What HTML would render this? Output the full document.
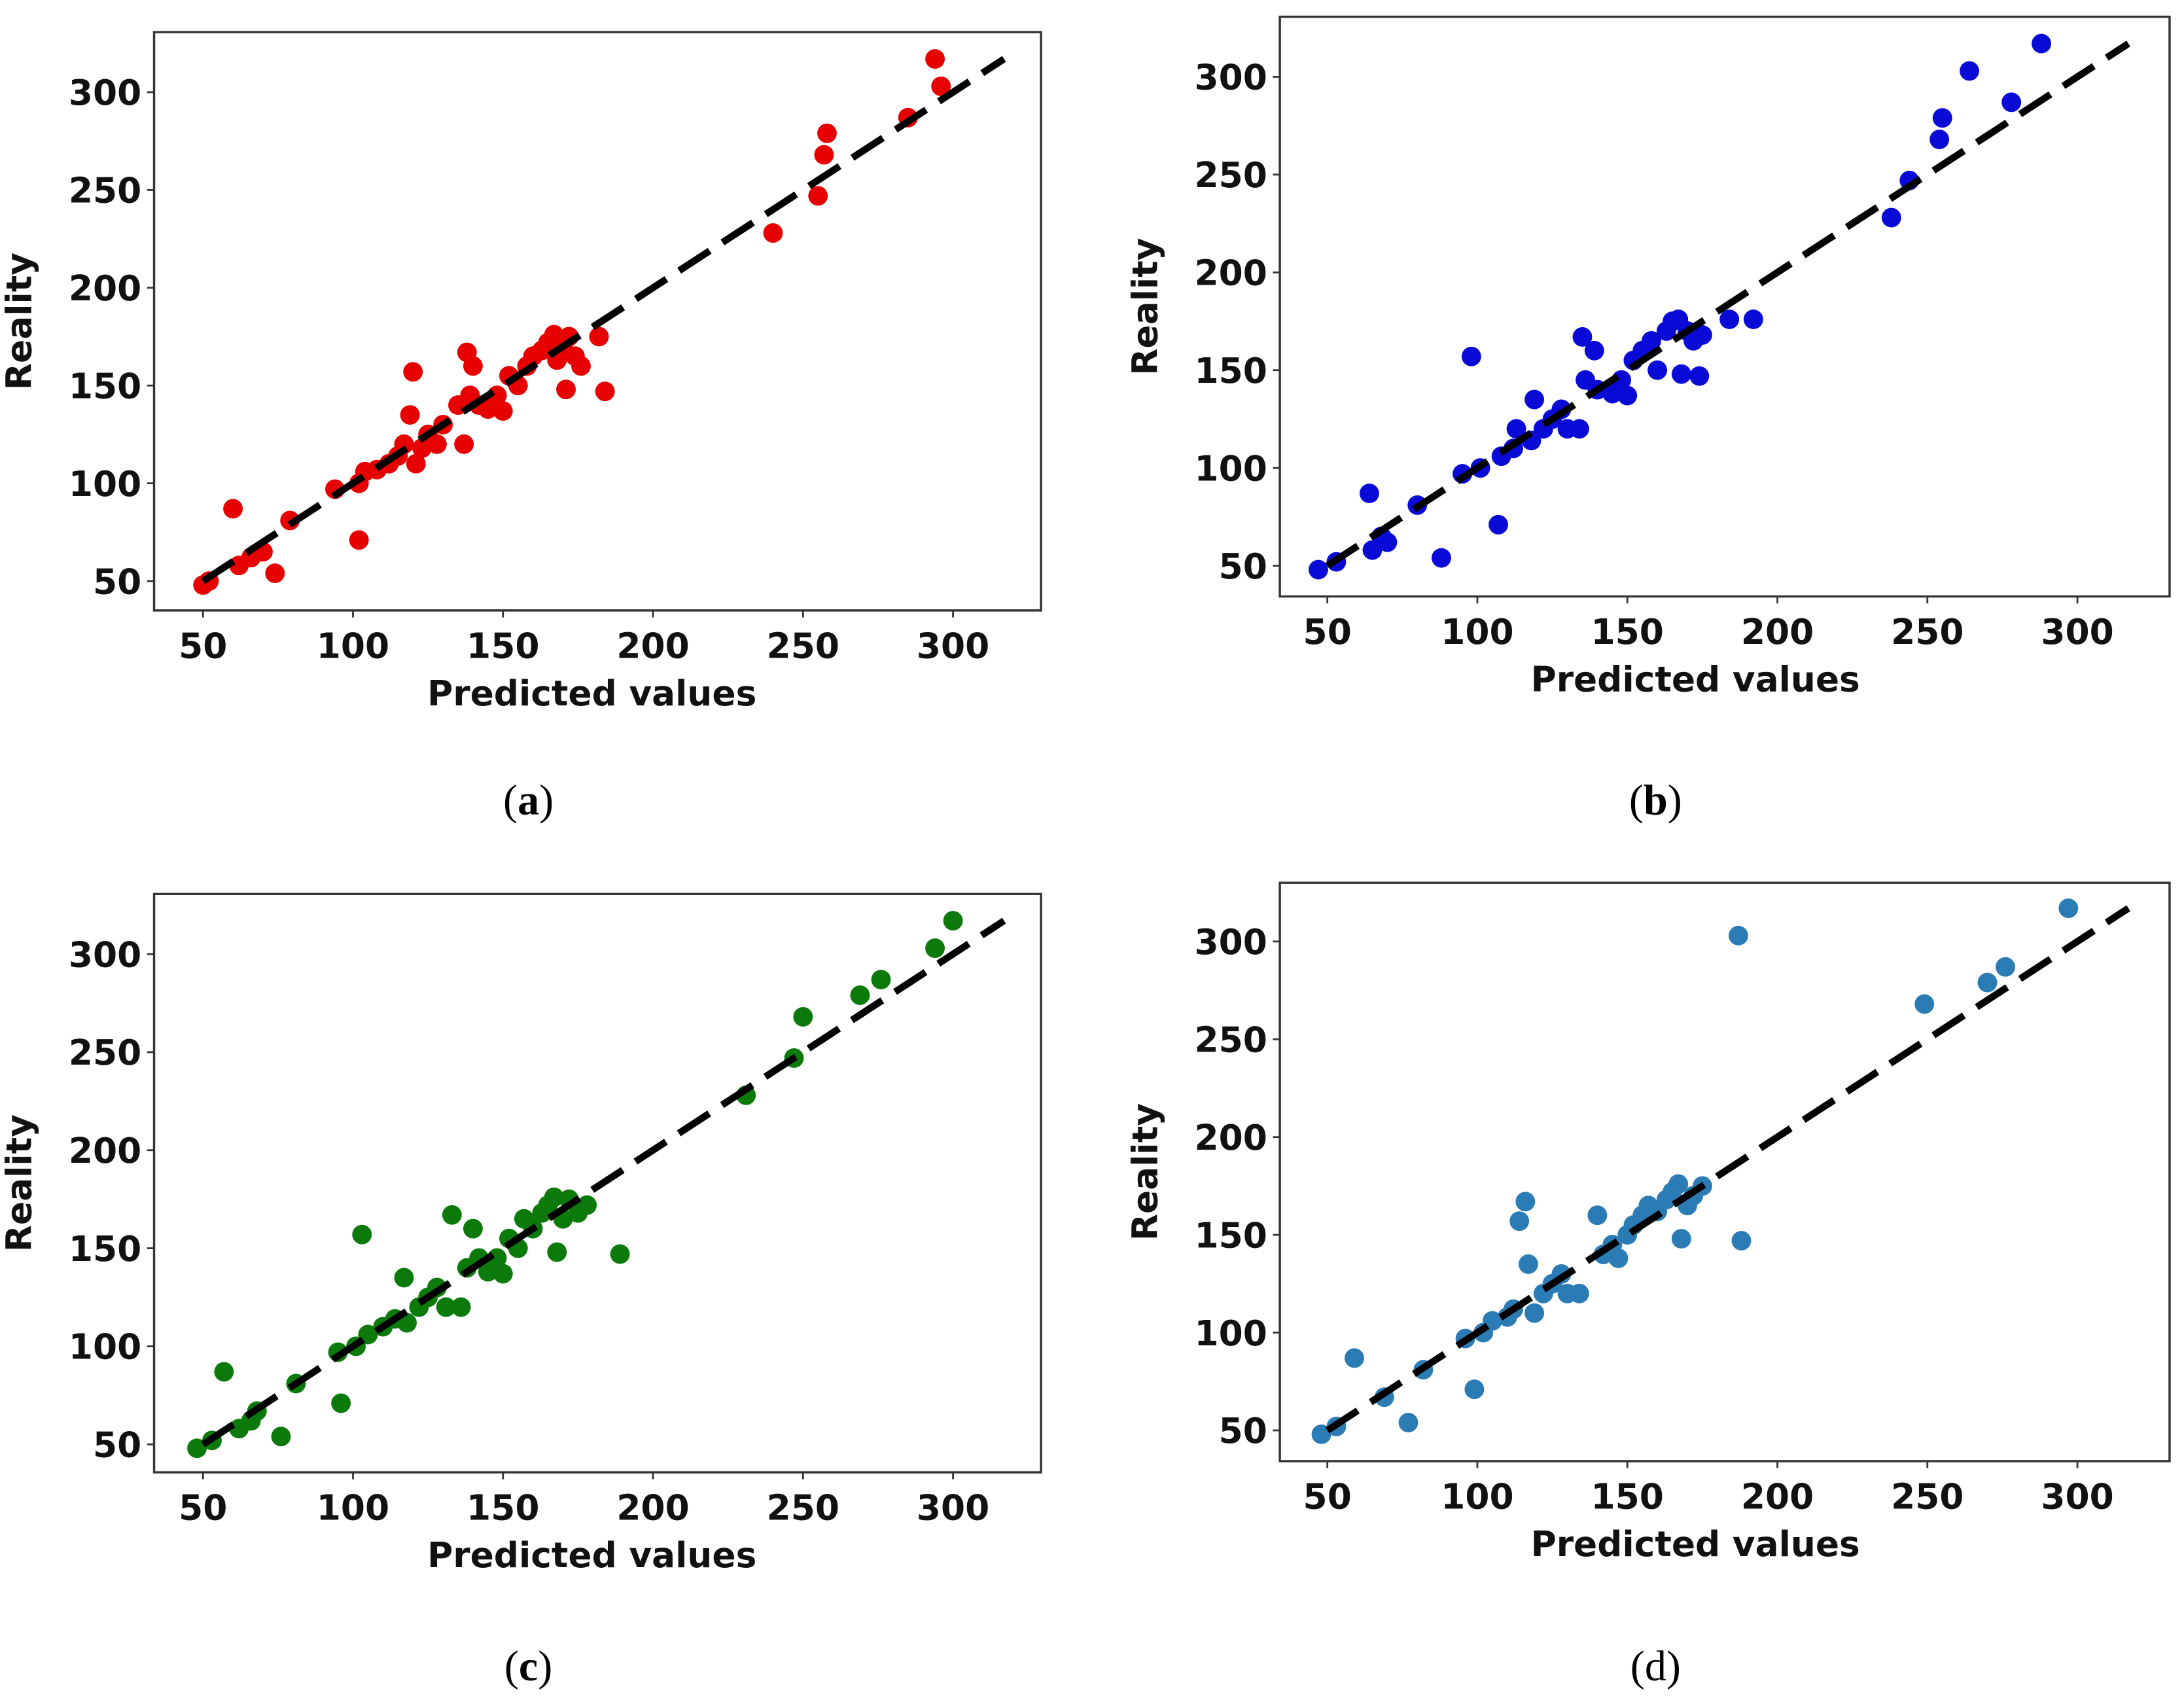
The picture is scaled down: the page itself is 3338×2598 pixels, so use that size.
<!DOCTYPE html>
<html><head><meta charset="utf-8"><style>
html,body{margin:0;padding:0;background:#fff;}
svg{display:block;}
.tk{font-family:"DejaVu Sans","Liberation Sans",sans-serif;font-weight:bold;font-size:25px;fill:#111;}
.cap{font-family:"Liberation Serif",serif;font-size:31px;fill:#000;}
</style></head><body>
<svg id="fig" width="3338" height="2598" viewBox="0 0 1563 1217" xmlns="http://www.w3.org/2000/svg">
<rect width="1563" height="1217" fill="#fff"/>
</svg>
<script>
const ticks = [50,100,150,200,250,300];
const xTickLabels = ["50","100","150","200","250","300"];
const yTickLabels = ["50","100","150","200","250","300"];
const captionLetters = ["a","b","c","d"];
const colors = ["#e60000","#0a0ad6","#0b7a0b","#2b7bb5"];
const predA = [50,52,60,62,66,70,74,79,94,102,102,104,108,112,115,117,119,120,121,123,125,128,130,135,137,138,139,140,142,145,148,150,152,155,158,160,163,165,167,168,170,171,172,174,176,182,184,240,255,257,258,285,294,296];
const realA = [48,50,87,58,62,65,54,81,97,71,100,106,107,110,114,120,135,157,110,118,125,120,130,140,120,167,145,160,140,138,145,137,155,150,160,165,168,172,176,163,170,148,175,165,160,175,147,228,247,268,279,287,317,303];
const predB = [47,53,64,65,68,70,80,88,95,98,101,107,108,112,113,118,119,122,125,128,130,134,135,136,139,140,145,148,150,152,155,158,160,163,165,167,168,170,172,174,175,184,192,238,244,254,255,264,278,288];
const realB = [48,52,87,58,65,62,81,54,97,157,100,71,106,110,120,114,135,120,125,130,120,120,167,145,160,140,138,145,137,155,160,165,150,170,175,176,148,170,165,147,168,176,176,228,247,268,279,303,287,317];
const predC = [48,53,57,62,66,68,76,81,95,96,101,103,105,110,114,117,118,122,125,128,131,133,136,138,140,142,145,148,150,152,155,157,160,163,165,167,168,170,172,175,178,189,231,247,250,269,276,294,300];
const realC = [48,52,87,58,62,67,54,81,97,71,100,157,106,110,114,135,112,120,125,130,120,167,120,140,160,145,138,145,137,155,150,165,160,168,172,176,148,165,175,168,172,147,228,247,268,279,287,303,317];
const predD = [48,53,59,69,77,82,96,99,102,105,110,112,114,116,117,119,122,125,128,130,134,140,142,145,147,150,152,155,157,160,163,165,167,168,170,172,175,187,188,249,270,276,297];
const realD = [48,52,87,67,54,81,97,71,100,106,108,112,157,167,135,110,120,125,130,120,120,160,140,145,138,150,155,160,165,162,168,172,176,148,165,170,175,303,147,268,279,287,317];
const preds = [predA,predB,predC,predD];
const reals = [realA,realB,realC,realD];

const NS="http://www.w3.org/2000/svg";
const svg=document.getElementById('fig');
function mk(tag,attrs,parent){const e=document.createElementNS(NS,tag);for(const k in attrs)e.setAttribute(k,attrs[k]);(parent||svg).appendChild(e);return e;}
const panels=[
 {fx:110,fy:23,fw:635,fh:414,x50:145,x300:682,y50:416,y300:66,cx:378,cy:573},
 {fx:916,fy:12,fw:637,fh:415,x50:950,x300:1487,y50:405,y300:55,cx:1185,cy:573},
 {fx:110,fy:640,fw:635,fh:414,x50:145,x300:682,y50:1034,y300:683,cx:378,cy:1193},
 {fx:916,fy:632,fw:637,fh:414,x50:950,x300:1487,y50:1024,y300:674,cx:1185,cy:1193}
];
panels.forEach((p,i)=>{
 const g=mk('g',{});
 
 
 const sx=v=>p.x50+(v-50)*(p.x300-p.x50)/250;
 const sy=v=>p.y50-(v-50)*(p.y50-p.y300)/250;
 const fr=mk('rect',{x:p.fx,y:p.fy,width:p.fw,height:p.fh,fill:'#fff',stroke:'#333','stroke-width':1.6},g);
 
 
 ticks.forEach((t,k)=>{
  mk('line',{x1:sx(t),x2:sx(t),y1:p.fy+p.fh,y2:p.fy+p.fh+5,stroke:'#333','stroke-width':1.3},g);
  const xl=mk('text',{x:sx(t),y:p.fy+p.fh+34,'text-anchor':'middle',class:'tk'},g);
  xl.textContent=xTickLabels[k];
  
  
  mk('line',{x1:p.fx-5,x2:p.fx,y1:sy(t),y2:sy(t),stroke:'#333','stroke-width':1.3},g);
  const yl=mk('text',{x:p.fx-9,y:sy(t)+9,'text-anchor':'end',class:'tk'},g);
  yl.textContent=yTickLabels[k];
  
  
 });
 const pts=mk('g',{},g);
 
 
 preds[i].forEach((v,k)=>{
  const c=mk('circle',{cx:sx(v),cy:sy(reals[i][k]),r:7,fill:colors[i]},pts);
  
  
 });
 const ln=mk('line',{x1:sx(50),y1:sy(50),x2:sx(317),y2:sy(317),stroke:'#000','stroke-width':5,'stroke-dasharray':'26 11'},g);
 
 
 const xt=mk('text',{x:(sx(50)+sx(300))/2-(i%2?5:-10),y:p.fy+p.fh+68,'text-anchor':'middle',class:'tk'},g);
 xt.textContent='Predicted values';
 
 
 const ytx=p.fx-88, yty=p.fy+p.fh/2;
 const yt=mk('text',{x:ytx,y:yty,'text-anchor':'middle',class:'tk',transform:`rotate(-90 ${ytx} ${yty})`},g);
 yt.textContent='Reality';
 
 
 const cp=mk('text',{x:p.cx,y:p.cy+10,'text-anchor':'middle',class:'cap'},g);
 
 
 cp.appendChild(document.createTextNode('('));
 const b=mk('tspan',{'font-weight':i<3?'bold':'normal'},cp);
 b.textContent=captionLetters[i];
 cp.appendChild(document.createTextNode(')'));
});
</script>
</body></html>
